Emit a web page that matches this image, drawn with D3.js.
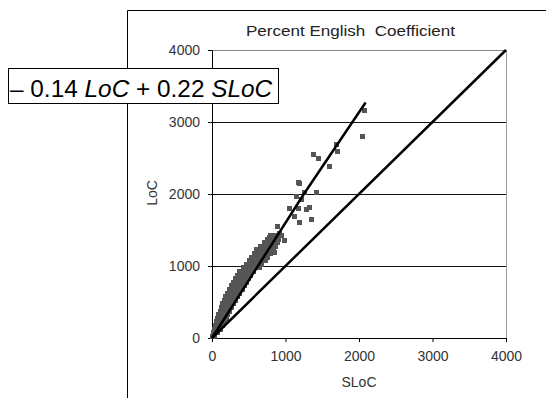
<!DOCTYPE html>
<html><head><meta charset="utf-8">
<script src="https://cdn.jsdelivr.net/npm/d3@7"></script>
<style>body{margin:0;background:#fff;} text{font-family:"Liberation Sans",Arial,sans-serif;}</style>
</head><body>
<svg id="c" width="546" height="398"></svg>
<script>
const title = "Percent English  Coefficient";
const xLabel = "SLoC";
const yLabel = "LoC";
const xTicks = [0, 1000, 2000, 3000, 4000];
const yTicks = [0, 1000, 2000, 3000, 4000];
// scatter points: [SLoC, LoC]
const points = [
 [10,25],[40,25],
 [20,75],[50,75],[80,75],
 [35,125],[60,125],[85,125],[110,125],
 [50,175],[75,175],[95,175],[120,175],[140,175],
 [65,225],[85,225],[100,225],[120,225],[135,225],[155,225],[170,225],
 [80,275],[100,275],[120,275],[140,275],[160,275],[180,275],[195,275],
 [95,325],[115,325],[135,325],[155,325],[175,325],[195,325],[215,325],
 [110,375],[135,375],[155,375],[180,375],[200,375],[220,375],[240,375],
 [125,425],[150,425],[170,425],[195,425],[215,425],[240,425],[260,425],
 [145,475],[170,475],[195,475],[220,475],[240,475],[265,475],[290,475],
 [165,525],[190,525],[215,525],[245,525],[270,525],[295,525],[320,525],
 [190,575],[220,575],[245,575],[275,575],[300,575],[325,575],[350,575],
 [215,625],[245,625],[270,625],[300,625],[325,625],[355,625],[380,625],
 [240,675],[270,675],[300,675],[330,675],[355,675],[385,675],[410,675],
 [265,725],[295,725],[325,725],[355,725],[385,725],[410,725],[440,725],
 [290,775],[320,775],[350,775],[380,775],[410,775],[440,775],[470,775],
 [315,825],[345,825],[375,825],[410,825],[440,825],[470,825],[500,825],
 [345,875],[375,875],[410,875],[440,875],[470,875],[500,875],[530,875],
 [380,925],[410,925],[445,925],[480,925],[510,925],[540,925],[570,925],
 [430,975],[465,975],[500,975],[535,975],[570,975],[605,975],[640,975],
 [470,1025],[505,1025],[540,1025],[575,1025],[610,1025],[645,1025],[680,1025],
 [505,1075],[545,1075],[580,1075],[620,1075],[655,1075],[695,1075],[730,1075],
 [540,1125],[580,1125],[615,1125],[655,1125],[690,1125],[725,1125],[760,1125],
 [575,1175],[615,1175],[650,1175],[690,1175],[725,1175],[765,1175],[800,1175],
 [610,1225],[650,1225],[685,1225],[720,1225],[760,1225],[795,1225],[830,1225],
 [660,1275],[695,1275],[730,1275],[765,1275],[800,1275],[830,1275],[860,1275],
 [720,1325],[750,1325],[780,1325],[810,1325],[840,1325],[865,1325],[890,1325],
 [760,1375],[810,1375],[860,1375],[910,1375],
 [800,1425],[850,1425],[900,1425],[950,1425],
 [600,1230],[993,1352],[844,1185],[889,1546],[925,1454],[789,1398],[834,1371],
 [2077,3153],[2041,2796],[1696,2681],[1705,2588],[1383,2551],[1447,2490],[1605,2380],
 [1175,2162],[1190,2140],[1424,2023],[1152,1972],[1265,2023],[1220,1917],[1061,1792],
 [1175,1792],[1279,1787],[1320,1810],[1129,1685],[1184,1602],[1356,1648]
];
const fitLine = [[0,0],[1250,2000],[2090,3270]];
const identityLine = [[0,0],[4000,4000]];
const formulaParts = [["– 0.14 ",false],["LoC",true],[" + 0.22 ",false],["SLoC",true]];

const svg = d3.select("#c");
const x = d3.scaleLinear().domain([0,4000]).range([212,506]);
const y = d3.scaleLinear().domain([0,4000]).range([338,50]);
const FONT = "Liberation Sans, Arial, sans-serif";

// outer frame
svg.append("line").attr("x1",127.5).attr("x2",546).attr("y1",10.5).attr("y2",10.5).attr("stroke","#000");
svg.append("line").attr("x1",127.5).attr("x2",127.5).attr("y1",10.5).attr("y2",398).attr("stroke","#000");

svg.append("text").attr("x",350.5).attr("y",35.5).attr("text-anchor","middle").attr("font-size",15)
 .attr("fill","#222").attr("xml:space","preserve").style("white-space","pre")
 .attr("textLength",209).attr("lengthAdjust","spacingAndGlyphs").text(title);

// plot border (gray) top & right
svg.append("line").attr("x1",212).attr("x2",506.5).attr("y1",50.5).attr("y2",50.5).attr("stroke","#888");
svg.append("line").attr("x1",506.5).attr("x2",506.5).attr("y1",50.5).attr("y2",338).attr("stroke","#999");

// gridlines
svg.append("g").selectAll("line").data(yTicks.filter(d=>d>0&&d<4000)).join("line")
 .attr("x1",212).attr("x2",506).attr("y1",d=>Math.round(y(d))+0.5).attr("y2",d=>Math.round(y(d))+0.5).attr("stroke","#111");

// axes
const fmt = d3.format("d");
const xa = svg.append("g").attr("transform","translate(0,338)")
 .call(d3.axisBottom(x).tickValues(xTicks).tickFormat(fmt).tickSize(4).tickSizeOuter(0).tickPadding(9));
const ya = svg.append("g").attr("transform","translate(212,0)")
 .call(d3.axisLeft(y).tickValues(yTicks).tickFormat(fmt).tickSize(4).tickSizeOuter(0).tickPadding(8));
[xa,ya].forEach(a=>{a.select(".domain").attr("stroke","#000");a.selectAll("line").attr("stroke","#000");
 a.selectAll("text").attr("font-size",14).attr("fill","#333").attr("font-family",FONT);});

svg.append("text").attr("x",359).attr("y",387).attr("text-anchor","middle").attr("font-size",14).attr("fill","#333").text(xLabel);
svg.append("text").attr("transform","translate(156.5,193) rotate(-90)").attr("text-anchor","middle").attr("font-size",14).attr("fill","#333").text(yLabel);

// scatter
svg.append("g").attr("shape-rendering","crispEdges").selectAll("rect").data(points).join("rect")
 .attr("x",d=>Math.round(x(d[0])-2.5)).attr("y",d=>Math.round(y(d[1])-2.5)).attr("width",5).attr("height",5).attr("fill","#555");

const line = d3.line().x(d=>x(d[0])).y(d=>y(d[1]));
svg.append("path").attr("d",line(identityLine)).attr("fill","none").attr("stroke","#000").attr("stroke-width",2.5);
svg.append("path").attr("d",line(fitLine)).attr("fill","none").attr("stroke","#000").attr("stroke-width",2.5);

// formula box
svg.append("rect").attr("x",8.5).attr("y",68.5).attr("width",270).attr("height",35).attr("fill","#fff").attr("stroke","#000");
const ft = svg.append("text").attr("transform","translate(10,97) scale(1.06,1)").attr("font-size",23).attr("fill","#000");
formulaParts.forEach(p=>ft.append("tspan").attr("font-style",p[1]?"italic":"normal").attr("xml:space","preserve").style("white-space","pre").text(p[0]));
</script>
</body></html>
